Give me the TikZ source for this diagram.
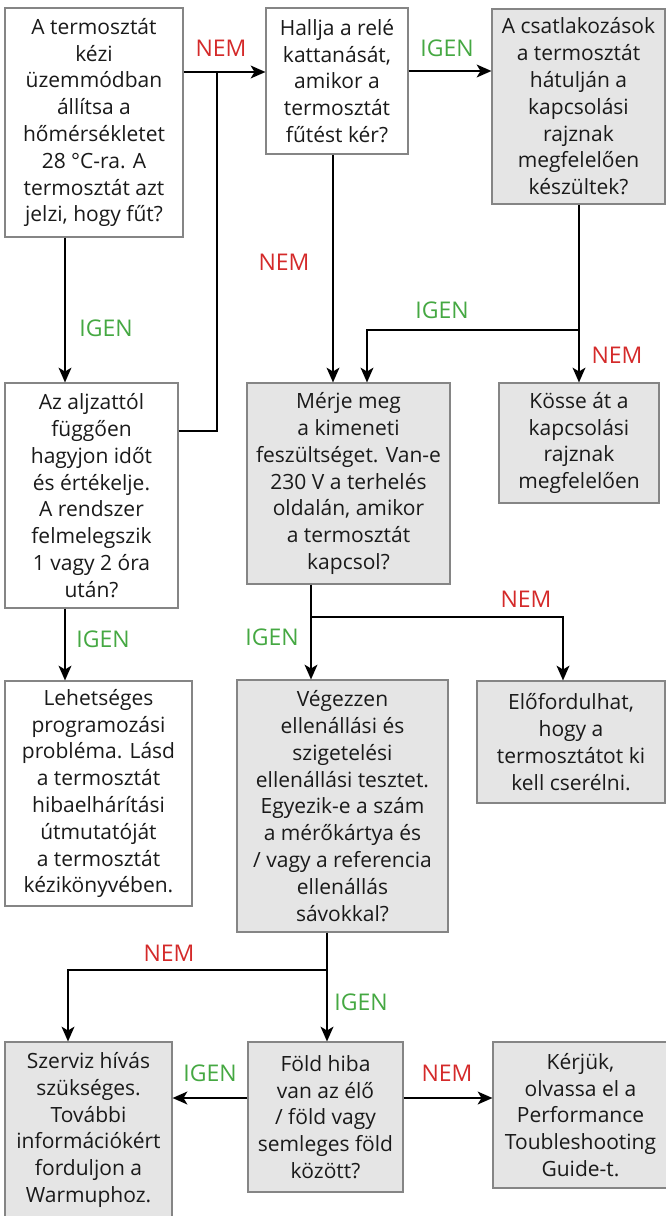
\documentclass[tikz,border=0pt]{standalone}
\usepackage{fontspec}
\setmainfont{Open Sans}
\usetikzlibrary{arrows.meta}
\definecolor{nemred}{HTML}{D42A2A}
\definecolor{igengreen}{HTML}{45A842}
\definecolor{boxgray}{HTML}{E5E5E5}
\definecolor{boxline}{HTML}{858585}
\definecolor{txt}{HTML}{1A1A1A}
\newcommand\pxu{0.75pt}
\begin{document}
\begin{tikzpicture}[x=0.75pt,y=-0.75pt,
  base/.style={draw=boxline, line width=0.8pt, inner sep=0pt, align=center, text=txt, font=\fontsize{15.75}{20.1}\selectfont},
  wbox/.style={base, fill=white},
  gbox/.style={base, fill=boxgray},
  ln/.style={line width=2.1pt},
  arr/.style={ln, -{Stealth[length=11pt,width=9.5pt,inset=2.8pt]}},
  nem/.style={text=nemred, font=\fontsize{17.25}{20}\selectfont, inner sep=0pt},
  igen/.style={text=igengreen, font=\fontsize{17.25}{20}\selectfont, inner sep=0pt}]
\useasboundingbox (0,0) rectangle (666,1216);
\clip (0,0) rectangle (666,1216);

% boxes
\node[wbox, minimum width=178*\pxu, minimum height=229*\pxu] (b1) at (94,122.5)
  {A termosztát\\kézi\\üzemmódban\\állítsa a\\hőmérsékletet\\28 °C-ra. A\\termosztát azt\\jelzi, hogy fűt?};
\node[wbox, minimum width=142*\pxu, minimum height=146*\pxu] (b2) at (337,81)
  {Hallja a relé\\kattanását,\\amikor a\\termosztát\\fűtést kér?};
\node[gbox, minimum width=173*\pxu, minimum height=195*\pxu] (b3) at (578.5,106.5)
  {A csatlakozások\\a termosztát\\hátulján a\\kapcsolási\\rajznak\\megfelelően\\készültek?};
\node[wbox, minimum width=173*\pxu, minimum height=225*\pxu] (b4) at (91.5,495.5)
  {Az aljzattól\\függően\\hagyjon időt\\és értékelje.\\A rendszer\\felmelegszik\\1 vagy 2 óra\\után?};
\node[gbox, minimum width=203*\pxu, minimum height=201*\pxu] (b5) at (348.5,483.5)
  {Mérje meg\\a kimeneti\\feszültséget. Van-e\\230 V a terhelés\\oldalán, amikor\\a termosztát\\kapcsol?};
\node[gbox, minimum width=160*\pxu, minimum height=120*\pxu] (b6) at (579,443)
  {Kösse át a\\kapcsolási\\rajznak\\megfelelően};
\node[wbox, minimum width=187*\pxu, minimum height=225*\pxu] (b9) at (98.5,793.5)
  {Lehetséges\\programozási\\probléma. Lásd\\a termosztát\\hibaelhárítási\\útmutatóját\\a termosztát\\kézikönyvében.};
\node[gbox, minimum width=211*\pxu, minimum height=252*\pxu] (b7) at (342.5,806)
  {Végezzen\\ellenállási és\\szigetelési\\ellenállási tesztet.\\Egyezik-e a szám\\a mérőkártya és\\/ vagy a referencia\\ellenállás\\sávokkal?};
\node[gbox, minimum width=188*\pxu, minimum height=122*\pxu] (b8) at (571,742)
  {Előfordulhat,\\hogy a\\termosztátot ki\\kell cserélni.};
\node[gbox, minimum width=155*\pxu, minimum height=150*\pxu] (b10) at (325.5,1117)
  {Föld hiba\\van az élő\\/ föld vagy\\semleges föld\\között?};
\node[gbox, minimum width=167*\pxu, minimum height=176*\pxu] (b11) at (88.5,1130)
  {Szerviz hívás\\szükséges.\\További\\információkért\\forduljon a\\Warmuphoz.};
\node[gbox, minimum width=175*\pxu, minimum height=146*\pxu] (b12) at (580.5,1115)
  {Kérjük,\\olvassa el a\\Performance\\Toubleshooting\\Guide-t.};

% helper coordinates
\coordinate (j1) at (217,72);
\coordinate (k1) at (217,431);
\coordinate (r3) at (450,71);
\coordinate (v1) at (65,300);
\coordinate (v2) at (333,300);
\coordinate (j2) at (579,330);
\coordinate (t2) at (367,330);
\coordinate (j3) at (311,617);
\coordinate (t3) at (563,617);
\coordinate (j4) at (327,970);
\coordinate (t4) at (68,970);
\coordinate (h5) at (300,1098);

% connectors
\draw[arr] (b1.east |- j1) -- (b2.west |- j1);
\draw[ln] (b4.east |- k1) -- (k1) -- (j1);
\draw[arr] (b2.east |- r3) -- (b3.west |- r3);
\draw[arr] (b1.south -| v1) -- (b4.north -| v1);
\draw[arr] (b2.south -| v2) -- (b5.north -| v2);
\draw[arr] (b3.south -| j2) -- (b6.north -| j2);
\draw[arr] (j2) -- (t2) -- (b5.north -| t2);
\draw[arr] (b4.south -| v1) -- (b9.north -| v1);
\draw[arr] (b5.south -| j3) -- (b7.north -| j3);
\draw[arr] (j3) -- (t3) -- (b8.north -| t3);
\draw[arr] (b7.south -| j4) -- (b10.north -| j4);
\draw[arr] (j4) -- (t4) -- (b11.north -| t4);
\draw[arr] (b10.west |- h5) -- (b11.east |- h5);
\draw[arr] (b10.east |- h5) -- (b12.west |- h5);

% labels
\node[nem] (l1) at (221,48) {NEM};
\node[igen] (l2) at (447,48) {IGEN};
\node[igen] (l3) at (106,328) {IGEN};
\node[nem] (l4) at (284,262) {NEM};
\node[igen] (l5) at (442,310) {IGEN};
\node[nem] (l6) at (617,355) {NEM};
\node[igen] (l7) at (103,639) {IGEN};
\node[igen] (l8) at (272,637) {IGEN};
\node[nem] (l9) at (526,599) {NEM};
\node[nem] (l10) at (169,953) {NEM};
\node[igen] (l11) at (361,1002) {IGEN};
\node[igen] (l12) at (210,1073) {IGEN};
\node[nem] (l13) at (447,1073) {NEM};
\end{tikzpicture}
\end{document}
